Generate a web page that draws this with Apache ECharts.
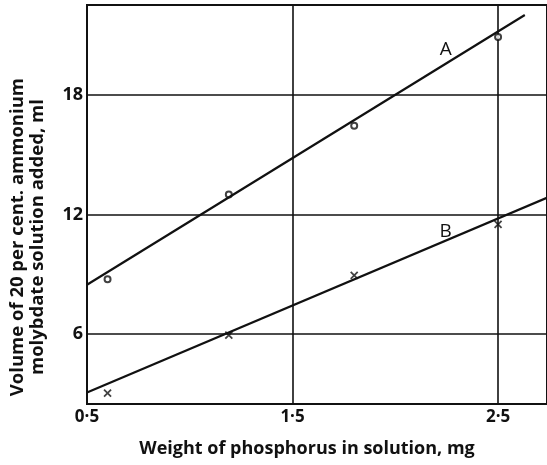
<!DOCTYPE html>
<html>
<head>
<meta charset="utf-8">
<script src="https://cdn.jsdelivr.net/npm/echarts@6/dist/echarts.min.js"></script>
<style>
  html, body { margin: 0; padding: 0; background: #fff; }
  #chart { width: 547px; height: 465px; }
</style>
</head>
<body>
<div id="chart"></div>
<script>
// measured points (mg of P, ml of molybdate)
const pointsA = [[0.6, 8.75], [1.19, 13.0], [1.8, 16.45], [2.5, 20.9]];
const pointsB = [[0.6, 3.05], [1.19, 5.95], [1.8, 8.95], [2.5, 11.5]];
// fitted straight lines
const lineA = [[0.5, 8.48], [2.63, 22.0]];
const lineB = [[0.5, 3.08], [2.74, 12.85]];
const xTicks = [0.5, 1.5, 2.5];
const yTicks = [6, 12, 18];
const lineLabels = [{name: 'A', coord: [2.245, 20.25]}, {name: 'B', coord: [2.245, 11.15]}];

const chart = echarts.init(document.getElementById('chart'));
const ink = '#111';
const font = 'Open Sans';

function labelPoint(item) {
    return {
        symbol: 'circle', symbolSize: 1,
        itemStyle: {color: 'rgba(0,0,0,0)'},
        label: {show: true, position: 'inside', color: ink, fontFamily: font, fontSize: 19, formatter: p => p.name},
        data: [item]
    };
}

chart.setOption({
    animation: false,
    grid: {left: 87, top: 5, right: -3, bottom: 61, show: true, borderColor: ink, borderWidth: 2},
    xAxis: {
        type: 'value', min: 0.5, max: 2.738,
        axisLine: {show: true, lineStyle: {color: ink, width: 2}},
        axisTick: {show: false, customValues: xTicks},
        axisLabel: {
            customValues: xTicks, color: ink, fontFamily: font, fontSize: 17, fontWeight: 'bold', margin: 5,
            formatter: v => String(v).replace('.', '\u00b7')
        },
        splitLine: {show: true, lineStyle: {color: ink, width: 1.6}},
        name: 'Weight of phosphorus in solution, mg',
        nameLocation: 'middle', nameGap: 36,
        nameTextStyle: {color: ink, fontFamily: font, fontSize: 18, fontWeight: 'bold', padding: [0, 20, 0, 0]}
    },
    yAxis: {
        type: 'value', min: 2.5, max: 22.5,
        axisLine: {show: true, lineStyle: {color: ink, width: 2}},
        axisTick: {show: false, customValues: yTicks},
        axisLabel: {customValues: yTicks, color: ink, fontFamily: font, fontSize: 18, fontWeight: 'bold', margin: 4},
        splitLine: {show: true, lineStyle: {color: ink, width: 1.6}}
    },
    graphic: [{
        type: 'text', left: 8, top: 78, rotation: Math.PI / 2,
        style: {
            text: 'Volume of 20 per cent. ammonium\nmolybdate solution added, ml',
            fill: ink, font: 'bold 18.5px "Open Sans"', textAlign: 'center', lineHeight: 20
        }
    }],
    series: [
        {
            type: 'line', data: lineA, symbol: 'none', silent: true,
            lineStyle: {color: ink, width: 2.2},
            markPoint: labelPoint(lineLabels[0])
        },
        {
            type: 'line', data: lineB, symbol: 'none', silent: true,
            lineStyle: {color: ink, width: 2.2},
            markPoint: labelPoint(lineLabels[1])
        },
        {
            type: 'scatter', data: pointsA, symbol: 'emptyCircle', symbolSize: 6,
            itemStyle: {color: ink, borderWidth: 1.5}
        },
        {
            type: 'scatter', data: pointsB, symbol: 'path://M0,0L10,10M10,0L0,10', symbolSize: 7,
            itemStyle: {color: 'none', borderColor: ink, borderWidth: 1.8}
        }
    ]
});
</script>
</body>
</html>
